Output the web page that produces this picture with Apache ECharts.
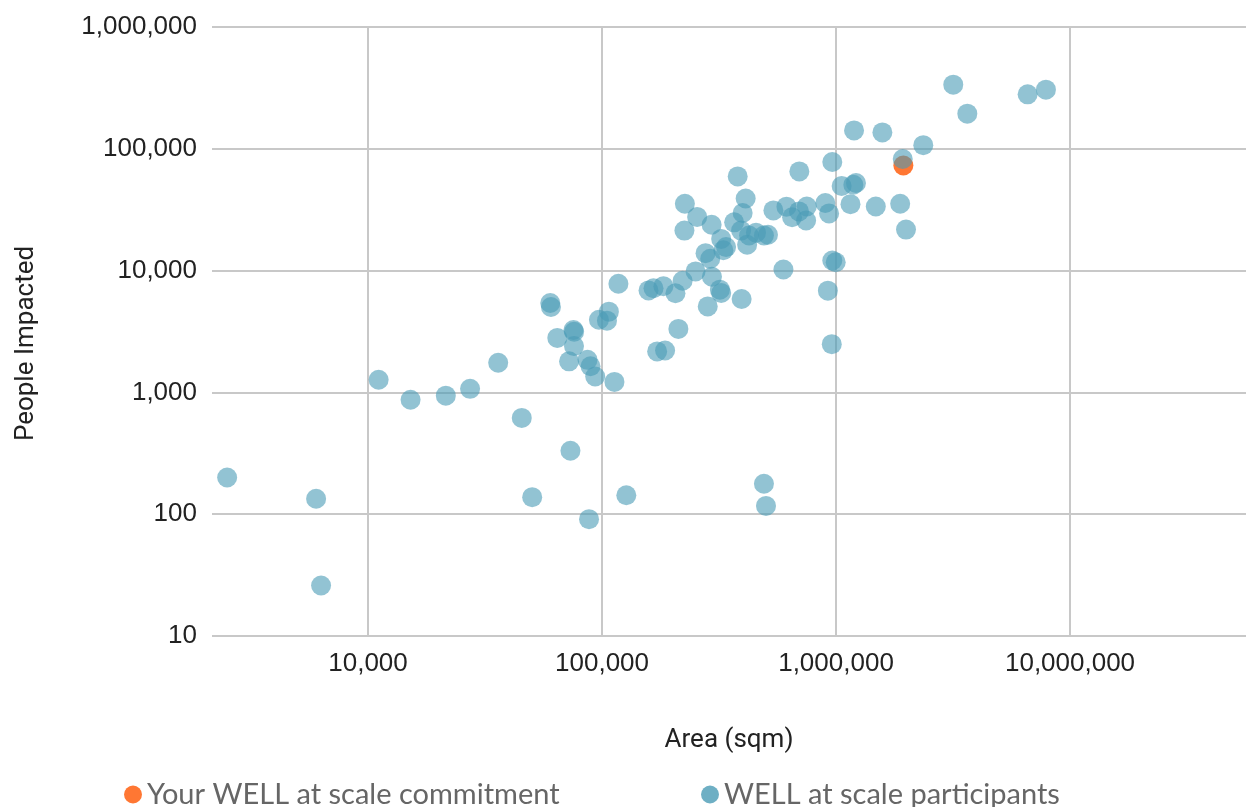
<!DOCTYPE html>
<html>
<head>
<meta charset="utf-8">
<script src="https://cdn.jsdelivr.net/npm/echarts@6/dist/echarts.min.js"></script>
<style>
  html, body { margin: 0; padding: 0; background: #ffffff; }
  #chart { width: 1246px; height: 807px; }
</style>
</head>
<body>
<div id="chart"></div>
<script>
// ---- Data ----
const seriesNames = ['Your WELL at scale commitment', 'WELL at scale participants'];

const commitmentArea   = [1940000];
const commitmentPeople = [73000];

const participantsArea = [
  2500, 6000, 6300, 11100, 15200, 21500, 27300, 36000, 45400, 73300,
  50300, 88000, 127000, 60100, 60500, 117500, 64400, 75500, 76000, 75900,
  72300, 86700, 89300, 93500, 113000, 97000, 107000, 105000, 158000, 166000,
  183000, 206000, 221000, 212000, 172000, 186000, 251000, 295000, 319000, 323000,
  395000, 283000, 277000, 290000, 339000, 330000, 323000, 225000, 294000, 255000,
  226000, 380000, 411000, 399000, 367000, 393000, 425000, 455000, 492000, 512000,
  417000, 596000, 540000, 614000, 649000, 695000, 750000, 745000, 900000, 934000,
  697000, 964000, 1057000, 1186000, 1217000, 1153000, 1479000, 1880000, 1991000, 964000,
  997000, 923000, 959000, 1194000, 1578000, 2360000, 3640000, 3170000, 6590000, 7890000,
  1928000, 492000, 502000
];
const participantsPeople = [
  200, 134, 26, 1270, 870, 940, 1070, 1750, 617, 332,
  138, 91, 143, 5420, 5030, 7800, 2800, 3250, 3150, 2400,
  1800, 1850, 1640, 1350, 1220, 3950, 4600, 3880, 6880, 7170,
  7450, 6520, 8260, 3320, 2170, 2210, 9850, 8910, 6970, 6550,
  5850, 5080, 13900, 12500, 15600, 14700, 18200, 21300, 23800, 27600,
  35400, 59300, 39100, 29700, 24900, 21300, 19400, 20500, 19400, 19700,
  16300, 10200, 31200, 33500, 27400, 30600, 33600, 25800, 35900, 29500,
  65200, 77900, 49500, 50700, 52400, 35100, 33600, 35400, 21700, 12100,
  11700, 6840, 2490, 141600, 136300, 107100, 194200, 336000, 279800, 305700,
  82500, 178, 117
];

const xAxisTitle = 'Area (sqm)';
const yAxisTitle = 'People Impacted';

// ---- Helpers ----
function zip(xs, ys) { return xs.map((x, i) => [x, ys[i]]); }
function isPow10(v) {
  const l = Math.log10(v);
  return Math.abs(l - Math.round(l)) < 1e-6;
}
function fmt(v) {
  if (!isPow10(v)) return '';
  return Math.round(v).toLocaleString('en-US');
}

const chart = echarts.init(document.getElementById('chart'), null, { renderer: 'canvas' });

const gridColor = '#c8c8c8';
const labelFont = { fontFamily: 'Liberation Sans, Arial, sans-serif', fontSize: 26, color: '#222222' };
const legendText = { fontFamily: 'Lato, sans-serif', fontSize: 29, color: '#666666' };

chart.setOption({
  animation: false,
  backgroundColor: '#ffffff',
  grid: { left: 212, right: 0, top: 27, bottom: 171 },
  legend: [
    {
      data: [seriesNames[0]],
      left: 124, top: 780, padding: 0,
      icon: 'circle', itemWidth: 18, itemHeight: 18,
      textStyle: legendText
    },
    {
      data: [seriesNames[1]],
      left: 701, top: 780, padding: 0,
      icon: 'circle', itemWidth: 18, itemHeight: 18,
      itemStyle: { opacity: 0.8 },
      textStyle: legendText
    }
  ],
  xAxis: {
    type: 'log',
    logBase: 10,
    min: 2154,
    max: 56500000,
    name: xAxisTitle,
    nameLocation: 'middle',
    nameGap: 91,
    nameTextStyle: { fontFamily: 'Roboto, sans-serif', fontSize: 26, color: '#222222' },
    axisLine: { show: false },
    axisTick: { show: false },
    axisLabel: Object.assign({ margin: 15, formatter: fmt, showMinLabel: false, showMaxLabel: false }, labelFont),
    splitLine: { show: true, showMinLine: false, showMaxLine: false, lineStyle: { color: gridColor, width: 2 } }
  },
  yAxis: {
    type: 'log',
    logBase: 10,
    min: 10,
    max: 1000000,
    name: yAxisTitle,
    nameLocation: 'middle',
    nameGap: 173,
    nameTextStyle: { fontFamily: 'Roboto, sans-serif', fontSize: 26, color: '#222222', padding: [0, 24, 0, 0] },
    axisLine: { show: false },
    axisTick: { show: false },
    axisLabel: Object.assign({ margin: 15, formatter: fmt }, labelFont),
    splitLine: { show: true, lineStyle: { color: gridColor, width: 2 } }
  },
  series: [
    {
      name: seriesNames[0],
      type: 'scatter',
      symbol: 'circle',
      symbolSize: 20,
      itemStyle: { color: '#ff7733', opacity: 1 },
      data: zip(commitmentArea, commitmentPeople),
      z: 2
    },
    {
      name: seriesNames[1],
      type: 'scatter',
      symbol: 'circle',
      symbolSize: 20,
      itemStyle: { color: '#4a9bb5', opacity: 0.6 },
      data: zip(participantsArea, participantsPeople),
      z: 3
    }
  ]
});
</script>
</body>
</html>
